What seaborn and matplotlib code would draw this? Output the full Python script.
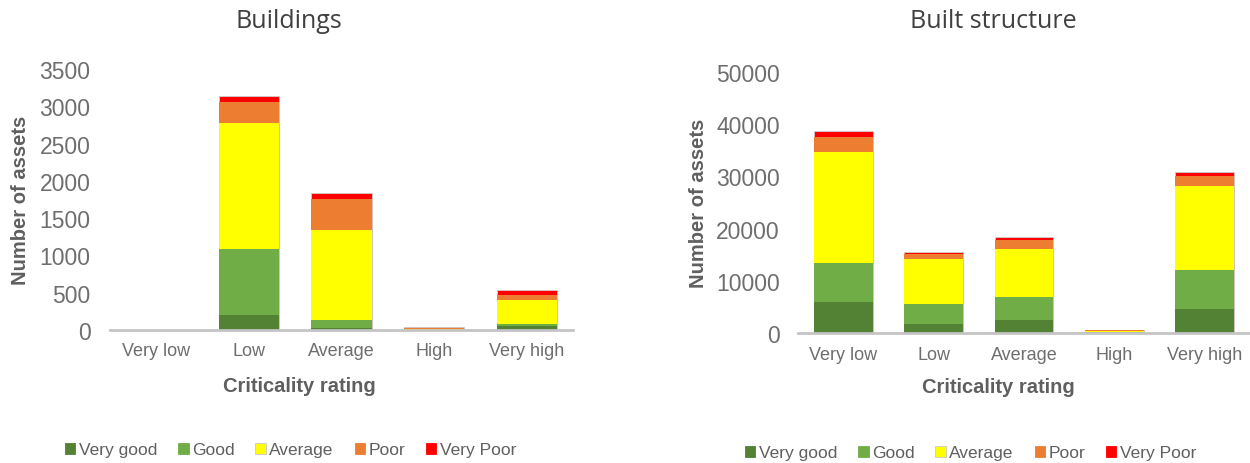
import numpy as np
import pandas as pd
import matplotlib
matplotlib.use("Agg")
import matplotlib.pyplot as plt
from matplotlib.patches import Patch
import seaborn as sns

# Criticality categories along the x axis
ratings = ["Very low", "Low", "Average", "High", "Very high"]

# Condition classes, stacked bottom to top
conditions = ["Very good", "Good", "Average", "Poor", "Very Poor"]
condition_colors = ["#548235", "#70AD47", "#FFFF00", "#ED7D31", "#FF0000"]

# Buildings: number of assets per condition for each criticality rating
bld_very_good = [0, 197, 25, 2, 54]
bld_good = [0, 895, 110, 3, 32]
bld_average = [0, 1684, 1207, 8, 321]
bld_poor = [0, 282, 416, 20, 58]
bld_very_poor = [0, 80, 80, 12, 77]

# Built structure: number of assets per condition for each criticality rating
bs_very_good = [6000, 1650, 2490, 50, 4660]
bs_good = [7400, 3830, 4330, 80, 7410]
bs_average = [21300, 8760, 9270, 200, 16020]
bs_poor = [2900, 950, 1660, 150, 2080]
bs_very_poor = [1150, 390, 570, 100, 650]

bld_yticks = [0, 500, 1000, 1500, 2000, 2500, 3000, 3500]
bs_yticks = [0, 10000, 20000, 30000, 40000, 50000]

sns.set_theme(style="white")
plt.rcParams["font.family"] = ["Liberation Sans", "DejaVu Sans"]

TICK_GREY = "#6E6E6E"
LABEL_GREY = "#5F5F5F"
TITLE_GREY = "#404040"

W, H = 1250, 464
fig = plt.figure(figsize=(W / 100, H / 100), dpi=100)


def px_axes(left, top, right, bottom):
    return fig.add_axes([left / W, 1 - bottom / H, (right - left) / W, (bottom - top) / H])


def stacked(ax, series, yticks, pad):
    frame = pd.DataFrame(dict(zip(conditions, series)), index=ratings)
    cum = frame.cumsum(axis=1)
    # draw cumulative totals from the top class down so each layer shows its own segment;
    # only the outermost layer carries the light outline
    layers = list(zip(conditions, condition_colors))[::-1]
    for i, (cond, col) in enumerate(layers):
        sns.barplot(x=ratings, y=cum[cond].values, color=col, width=0.65,
                    edgecolor="#CFCFCF" if i == 0 else "none",
                    linewidth=0.6 if i == 0 else 0, saturation=1, ax=ax)
    ax.set_xlim(-0.5, len(ratings) - 0.5)
    ax.set_ylim(0, yticks[-1])
    ax.set_yticks(yticks)
    ax.set_yticklabels([str(t) for t in yticks])
    ax.set_xlabel("")
    ax.set_ylabel("")
    for side in ["top", "right", "left"]:
        ax.spines[side].set_visible(False)
    ax.spines["bottom"].set_color("#C4C4C4")
    ax.spines["bottom"].set_linewidth(2.0)
    ax.spines["bottom"].set_zorder(5)
    ax.tick_params(axis="y", length=0, labelsize=16.5, labelcolor=TICK_GREY, pad=pad)
    ax.tick_params(axis="x", length=0, labelsize=13, labelcolor=TICK_GREY, pad=9)
    ax.grid(False)


ax1 = px_axes(110, 70, 573, 331)
stacked(ax1, [bld_very_good, bld_good, bld_average, bld_poor, bld_very_poor], bld_yticks, 14)

ax2 = px_axes(798, 73, 1250, 334)
stacked(ax2, [bs_very_good, bs_good, bs_average, bs_poor, bs_very_poor], bs_yticks, 13)

title_font = ["Open Sans", "DejaVu Sans"]
fig.text(289 / W, 1 - 22 / H, "Buildings", ha="center", va="center",
         fontsize=18, color=TITLE_GREY, family=title_font)
fig.text(993 / W, 1 - 22 / H, "Built structure", ha="center", va="center",
         fontsize=18, color=TITLE_GREY, family=title_font)

for xc, yc in [(299.5, 387), (998, 388)]:
    fig.text(xc / W, 1 - yc / H, "Criticality rating", ha="center", va="center",
             fontsize=14.5, fontweight="bold", color=LABEL_GREY)
for xc, yc in [(21, 200), (698, 203)]:
    fig.text(xc / W, 1 - yc / H, "Number of assets", ha="center", va="center",
             rotation=90, fontsize=14.5, fontweight="bold", color=LABEL_GREY)

handles = [Patch(facecolor=c, edgecolor="#C9C9C9" if c == "#FFFF00" else c, linewidth=0.6)
           for c in condition_colors]
for x0, yc in [(65, 451), (745, 454)]:
    leg = fig.legend(handles, conditions, loc="center left",
                     bbox_to_anchor=(x0 / W, 1 - yc / H), ncol=5, frameon=False,
                     fontsize=12.5, handlelength=0.6, handleheight=0.6,
                     handletextpad=0.2, columnspacing=1.2, borderpad=0, borderaxespad=0)
    for t in leg.get_texts():
        t.set_color(LABEL_GREY)

fig.savefig("out.png", dpi=100, facecolor="white")
